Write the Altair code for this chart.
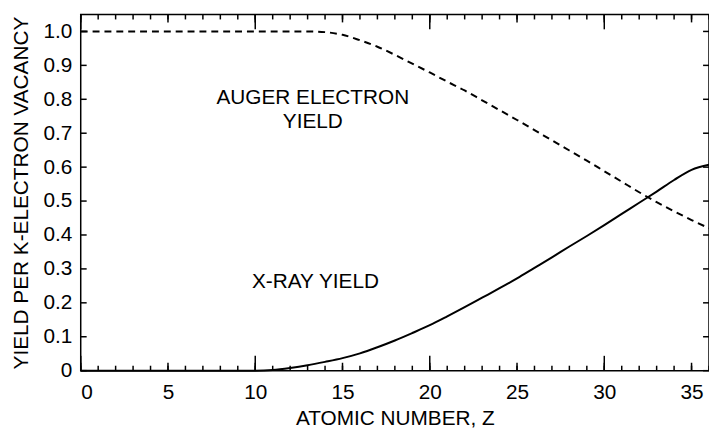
import altair as alt
import pandas as pd

# ---- data ----
Z = list(range(37))
xray_yield = [0, 0, 0, 0, 0, 0, 0, 0, 0, 0, 0,
              0.002, 0.008, 0.016, 0.026, 0.037, 0.051, 0.069, 0.089, 0.111, 0.134,
              0.160, 0.187, 0.215, 0.243, 0.272, 0.303, 0.334, 0.366, 0.397, 0.429,
              0.462, 0.495, 0.528, 0.562, 0.592, 0.607]
auger_yield = [1.0] * 14 + [0.998, 0.990, 0.974, 0.955, 0.931, 0.905, 0.879, 0.852, 0.826,
                            0.797, 0.768, 0.739, 0.709, 0.679, 0.649, 0.619, 0.588, 0.557,
                            0.526, 0.497, 0.470, 0.444, 0.420]

ann_text = ["AUGER ELECTRON", "YIELD", "X-RAY YIELD"]
ann_z = [13.3, 13.3, 13.45]
ann_y = [0.804, 0.733, 0.261]

# tick positions
x_minor = list(range(37))
x_fives = list(range(0, 36, 5))
x_tens = [0, 10, 20, 30]
y_ticks = [round(i * 0.1, 1) for i in range(11)]

df = pd.DataFrame({"Z": Z, "xray": xray_yield, "auger": auger_yield})
ann = pd.DataFrame({"t": ann_text, "z": ann_z, "y": ann_y})

W, H = 635, 360
X_MAX, Y_MAX = 36, 1.05
FONT = "Liberation Sans"
FS = 21
xs = alt.Scale(domain=[0, X_MAX], nice=False, zero=False)
ys = alt.Scale(domain=[0, Y_MAX], nice=False)

# identical axis definitions shared by every layer (so merging keeps them)
AX = alt.Axis(
    orient="bottom", values=x_fives, ticks=False, tickSize=0, labelPadding=11,
    domain=False, grid=False, title="ATOMIC NUMBER, Z", titlePadding=5,
    labelFontSize=FS, titleFontSize=FS, labelColor="black", titleColor="black",
    labelFont=FONT, titleFont=FONT, titleFontWeight="normal")
AY = alt.Axis(
    orient="left", values=y_ticks, ticks=False, tickSize=0, labelPadding=9,
    labelExpr="datum.value == 0 ? '0' : format(datum.value, '.1f')",
    domain=False, grid=False, title="YIELD PER K-ELECTRON VACANCY", titlePadding=12,
    labelFontSize=FS, titleFontSize=FS, labelColor="black", titleColor="black",
    labelFont=FONT, titleFont=FONT, titleFontWeight="normal")

base = alt.Chart(df)

auger = base.mark_line(color="black", strokeWidth=2, strokeDash=[7, 5],
                       interpolate="monotone").encode(
    x=alt.X("Z:Q", scale=xs, axis=AX),
    y=alt.Y("auger:Q", scale=ys, axis=AY),
)

xray = base.mark_line(color="black", strokeWidth=2, interpolate="monotone").encode(
    x=alt.X("Z:Q", scale=xs, axis=AX),
    y=alt.Y("xray:Q", scale=ys, axis=AY),
)

# inward frame ticks, built from the tick-position lists as short line segments
ky = Y_MAX / H   # data units per pixel, vertical
kx = X_MAX / W   # data units per pixel, horizontal
seg_id, seg_x, seg_y = [], [], []


def add_seg(name, x0, y0, x1, y1):
    seg_id.extend([name, name])
    seg_x.extend([x0, x1])
    seg_y.extend([y0, y1])


for lst, L in ((x_minor, 5), (x_fives, 8), (x_tens, 15)):
    for v in lst:
        add_seg(f"b{L}_{v}", v, 0, v, L * ky)
        add_seg(f"t{L}_{v}", v, Y_MAX, v, Y_MAX - L * ky)
for v in y_ticks:
    add_seg(f"l_{v}", 0, v, 6 * kx, v)
    add_seg(f"r_{v}", X_MAX, v, X_MAX - 6 * kx, v)

ticks_df = pd.DataFrame({"id": seg_id, "x": seg_x, "y": seg_y})

ticks = alt.Chart(ticks_df).mark_line(color="black", strokeWidth=1.5).encode(
    x=alt.X("x:Q", scale=xs, axis=AX),
    y=alt.Y("y:Q", scale=ys, axis=AY),
    detail="id:N",
)

text = alt.Chart(ann).mark_text(font=FONT, fontSize=FS, color="black",
                                align="center", baseline="middle").encode(
    x=alt.X("z:Q", scale=xs, axis=AX),
    y=alt.Y("y:Q", scale=ys, axis=AY),
    text="t:N",
)

chart = alt.layer(auger, xray, ticks, text).properties(
    width=W, height=H,
    autosize=alt.AutoSizeParams(type="none"),
    padding={"left": 73.5, "top": 4.3, "right": 0, "bottom": 57.5},
    background="white",
).configure_view(stroke="black", strokeWidth=1.5)

chart.save("out.html", embed_options={"renderer": "svg", "actions": False})
